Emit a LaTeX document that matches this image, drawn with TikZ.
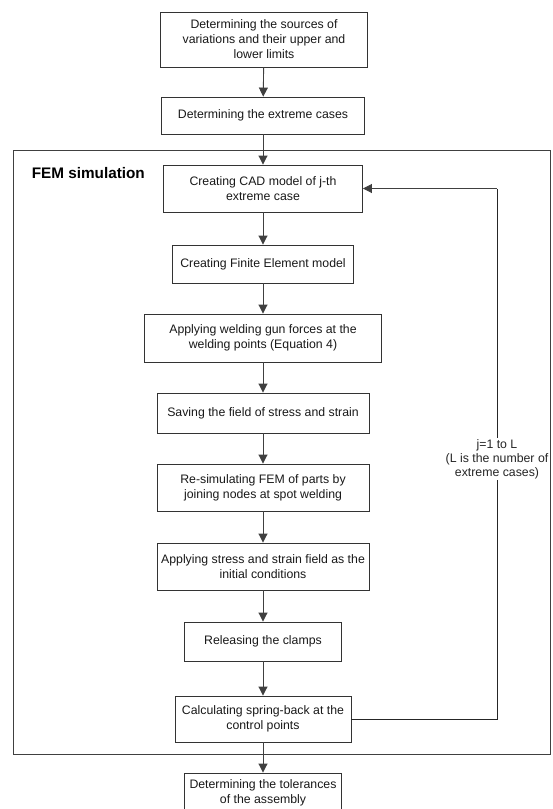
\documentclass[tikz,border=0pt]{standalone}
\usepackage{fontspec}
\setmainfont{Liberation Sans}
\usetikzlibrary{arrows.meta}
\begin{document}
\begin{tikzpicture}[x=1pt,y=-1pt,
  line width=0.9pt,
  box/.style={draw=black!80, fill=white, inner sep=0pt, align=center, font=\fontsize{12.3}{15}\selectfont, text=black!90},
  arr/.style={draw=black!75, -{Triangle[length=9pt,width=9pt]}},
  con/.style={draw=black!85}]
\useasboundingbox (0,0) rectangle (552,809);
\fill[white] (0,0) rectangle (552,809);
% frame
\draw[draw=black!75] (13,150) rectangle (550,754);
\node[anchor=west, font=\fontsize{15.3}{17}\selectfont\bfseries] (fem) at (28,173) {FEM simulation};
% boxes
\node[box, minimum width=207pt, minimum height=55pt] (b1) at (264,39.5) {Determining the sources of\\variations and their upper and\\lower limits};
\node[box, minimum width=203pt, minimum height=37pt] (b2) at (263,115.5) {Determining the extreme cases};
\node[box, minimum width=199pt, minimum height=47pt] (b3) at (263,188.5) {Creating CAD model of j-th\\extreme case};
\node[box, minimum width=181pt, minimum height=38pt] (b4) at (263,264) {Creating Finite Element model};
\node[box, minimum width=237pt, minimum height=48pt] (b5) at (263,338) {Applying welding gun forces at the\\welding points (Equation 4)};
\node[box, minimum width=212pt, minimum height=40pt] (b6) at (263,413) {Saving the field of stress and strain};
\node[box, minimum width=212pt, minimum height=47pt] (b7) at (263,487.5) {Re-simulating FEM of parts by\\joining nodes at spot welding};
\node[box, minimum width=212pt, minimum height=47pt] (b8) at (263,566.5) {Applying stress and strain field as the\\initial conditions};
\node[box, minimum width=157pt, minimum height=39pt] (b9) at (263,641.5) {Releasing the clamps};
\node[box, minimum width=176pt, minimum height=46pt] (b10) at (263,719) {Calculating spring-back at the\\control points};
\node[box, minimum width=157pt, minimum height=40pt] (b11) at (263,793) {Determining the tolerances\\of the assembly};
% arrows
\draw[arr] (b1) -- (b2);
\draw[arr] (b2) -- (b3);
\draw[arr] (b3) -- (b4);
\draw[arr] (b4) -- (b5);
\draw[arr] (b5) -- (b6);
\draw[arr] (b6) -- (b7);
\draw[arr] (b7) -- (b8);
\draw[arr] (b8) -- (b9);
\draw[arr] (b9) -- (b10);
\draw[arr] (b10) -- (b11);
% feedback loop
\coordinate (c1) at (497,719);
\coordinate (c2) at (497,188.5);
\draw[con] (b10.east) -- (c1) -- (c2);
\draw[arr] (c2) -- (b3.east);
\node[fill=white, inner sep=1pt, align=center, font=\fontsize{12.3}{14}\selectfont, text=black!85] (lbl) at (497,459) {j=1 to L\\(L is the number of\\extreme cases)};
\end{tikzpicture}
\end{document}
